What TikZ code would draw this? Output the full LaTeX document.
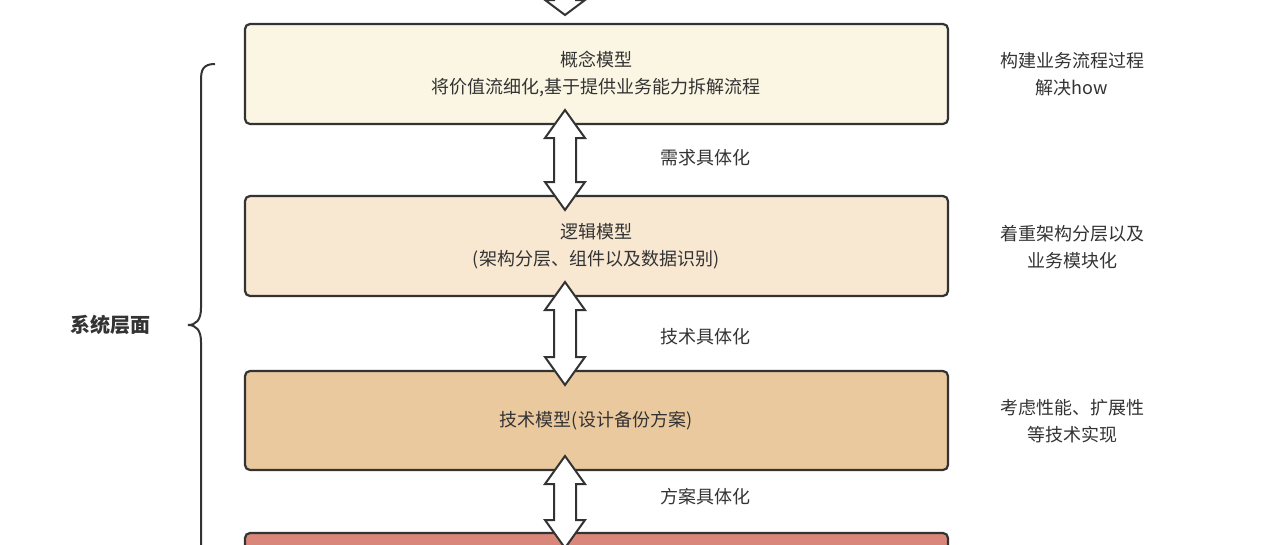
\documentclass[tikz,border=0pt]{standalone}
\usepackage{fontspec}
\newfontfamily\cjk{Noto Sans CJK SC}
\begin{document}
\begin{tikzpicture}[x=1pt,y=-1pt,
 box/.style={draw=black!80,line width=2.2pt,rounded corners=5pt},
 txt/.style={font=\cjk\fontsize{18}{27}\selectfont,text=black!80,align=center},
 arr/.style={draw=black!80,line width=2pt,fill=white,line join=miter}]
\useasboundingbox (0,0) rectangle (1280,544);
\definecolor{c1}{HTML}{FAF6E3}\definecolor{c2}{HTML}{F8E8D2}
\definecolor{c3}{HTML}{EBC99E}\definecolor{c4}{HTML}{D9877A}
\newcommand\darr[2]{\draw[arr] (554,#1+28) -- (545,#1+28) -- (565,#1) -- (585,#1+28) -- (576,#1+28)
 -- (576,#2-28) -- (585,#2-28) -- (565,#2) -- (545,#2-28) -- (554,#2-28) -- cycle;}
\draw[arr] (554,-30) -- (554,0) -- (545,0) -- (565,15) -- (585,0) -- (576,0) -- (576,-30);
\filldraw[box,fill=c1] (245,24) rectangle (948,124);
\filldraw[box,fill=c2] (245,196) rectangle (948,296);
\filldraw[box,fill=c3] (245,371) rectangle (948,470);
\filldraw[box,fill=c4] (245,533) rectangle (948,600);
\darr{110}{210}
\darr{282}{385}
\darr{456}{548}
\node[txt] (b1) at (596,74) {概念模型\\将价值流细化,基于提供业务能力拆解流程};
\node[txt] (b2) at (596,246) {逻辑模型\\(架构分层、组件以及数据识别)};
\node[txt] (b3) at (596,421) {技术模型(设计备份方案)};
\node[txt] (l1) at (705,158) {需求具体化};
\node[txt] (l2) at (705,337) {技术具体化};
\node[txt] (l3) at (705,497) {方案具体化};
\node[txt] (r1) at (1072,74) {构建业务流程过程\\解决how};
\node[txt] (r2) at (1072,247) {着重架构分层以及\\业务模块化};
\node[txt] (r3) at (1072,421) {考虑性能、扩展性\\等技术实现};
\draw[line width=2pt,black!80] (215,64) .. controls (203,64) and (201,70) .. (201,80) -- (201,308)
 .. controls (201,320) and (196,325) .. (188,325) .. controls (196,325) and (201,330) .. (201,342) -- (201,560);
\node[txt,font=\cjk\bfseries\fontsize{20}{24}\selectfont] (sys) at (110,325) {系统层面};
\end{tikzpicture}
\end{document}
